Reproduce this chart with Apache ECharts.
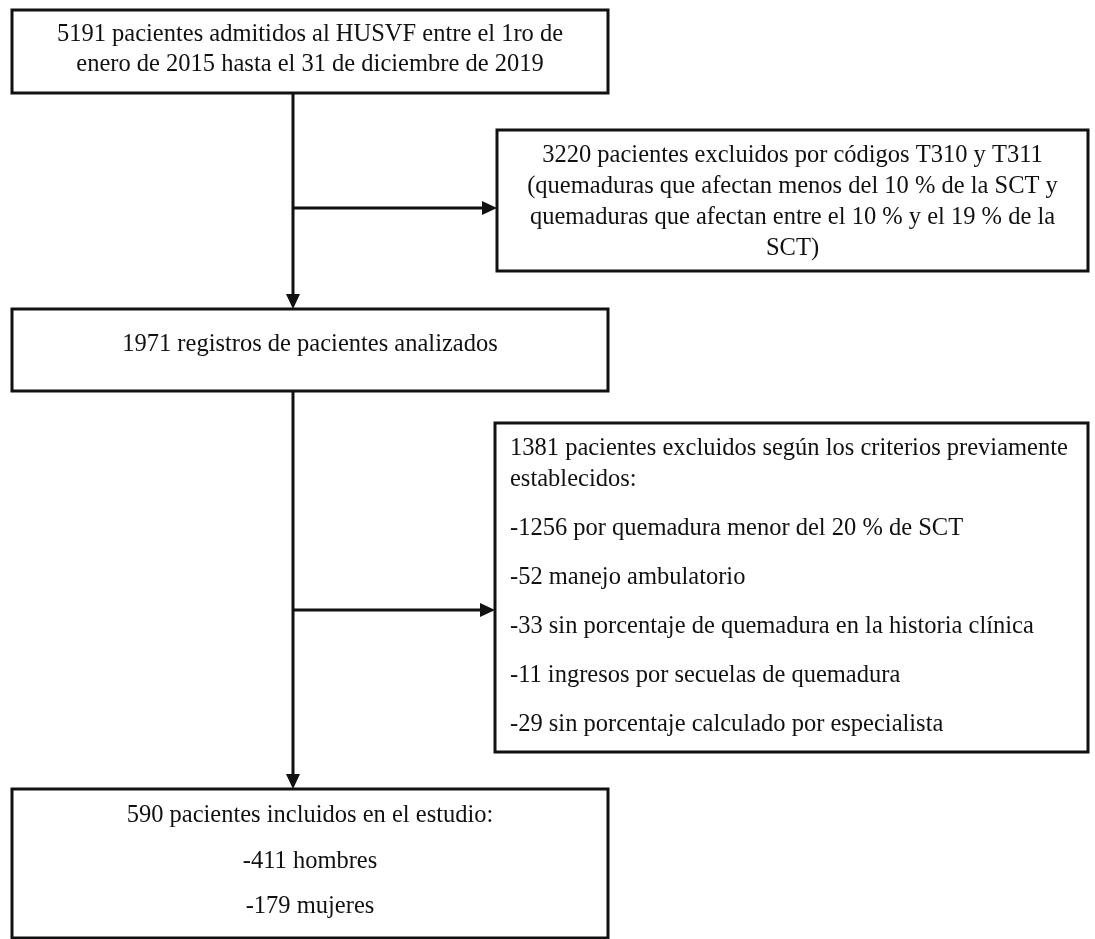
<!DOCTYPE html>
<html>
<head>
<meta charset="utf-8">
<script src="https://cdn.jsdelivr.net/npm/echarts@6/dist/echarts.min.js"></script>
<style>
  html, body { margin: 0; padding: 0; background: #ffffff; }
  #chart { width: 1095px; height: 939px; }
</style>
</head>
<body>
<div id="chart"></div>
<script>
// ---- content (text of the flow) ----
const flowSteps = [
  ['5191 pacientes admitidos al HUSVF entre el 1ro de', 'enero de 2015 hasta el 31 de diciembre de 2019'],
  ['1971 registros de pacientes analizados'],
  ['590 pacientes incluidos en el estudio:', '-411 hombres', '-179 mujeres']
];
const exclusions = [
  ['3220 pacientes excluidos por códigos T310 y T311',
   '(quemaduras que afectan menos del 10 % de la SCT y',
   'quemaduras que afectan entre el 10 % y el 19 % de la',
   'SCT)'],
  ['1381 pacientes excluidos según los criterios previamente',
   'establecidos:',
   '-1256 por quemadura menor del 20 % de SCT',
   '-52 manejo ambulatorio',
   '-33 sin porcentaje de quemadura en la historia clínica',
   '-11 ingresos por secuelas de quemadura',
   '-29 sin porcentaje calculado por especialista']
];

// ---- layout (diagram coordinates) ----
const stepBoxes = [[12, 10, 608, 93], [12, 309, 608, 391], [12, 789, 608, 938]];
const stepLineY = [[35, 65], [345], [816, 862, 907]];
const exclBoxes = [[497, 130, 1088, 271], [495, 423, 1088, 752]];
const exclLineY = [[156, 187, 218, 249], [449, 480, 529, 578, 627, 676, 725]];
const exclAlign = ['center', 'left'];
const spineX = 293;
const branchY = [208, 610];

const FONT = '24.5px "Liberation Serif", "Times New Roman", serif';
const INK = '#111111';

const items = [];
flowSteps.forEach((lines, i) => items.push({ kind: 'step', i }));
exclusions.forEach((lines, i) => items.push({ kind: 'excl', i }));

function renderBox(params, api) {
  const it = items[params.dataIndex];
  const box = it.kind === 'step' ? stepBoxes[it.i] : exclBoxes[it.i];
  const lines = it.kind === 'step' ? flowSteps[it.i] : exclusions[it.i];
  const ys = it.kind === 'step' ? stepLineY[it.i] : exclLineY[it.i];
  const align = it.kind === 'step' ? 'center' : exclAlign[it.i];
  const p0 = api.coord([box[0], box[1]]);
  const p1 = api.coord([box[2], box[3]]);
  const children = [{
    type: 'rect',
    shape: { x: p0[0], y: p0[1], width: p1[0] - p0[0], height: p1[1] - p0[1] },
    style: { fill: '#ffffff', stroke: INK, lineWidth: 3 }
  }];
  lines.forEach((t, k) => {
    let tx;
    if (align === 'center') tx = api.coord([(box[0] + box[2]) / 2, 0])[0];
    else tx = api.coord([box[0] + 15, 0])[0];
    const ty = api.coord([0, ys[k]])[1];
    children.push({
      type: 'text',
      style: { text: t, x: tx, y: ty, font: FONT, fill: INK, align: align, verticalAlign: 'middle' }
    });
  });
  return { type: 'group', children };
}

// connectors: [x1,y1,x2,y2]
const connectors = [
  [spineX, stepBoxes[0][3], spineX, stepBoxes[1][1]],
  [spineX, branchY[0], exclBoxes[0][0], branchY[0]],
  [spineX, stepBoxes[1][3], spineX, stepBoxes[2][1]],
  [spineX, branchY[1], exclBoxes[1][0], branchY[1]]
];

function renderArrow(params, api) {
  const c = connectors[params.dataIndex];
  const a = api.coord([c[0], c[1]]);
  const b = api.coord([c[2], c[3]]);
  const dx = b[0] - a[0], dy = b[1] - a[1];
  const len = Math.sqrt(dx * dx + dy * dy);
  const ux = dx / len, uy = dy / len;
  const hl = 15, hw = 7;
  const base = [b[0] - ux * hl, b[1] - uy * hl];
  return {
    type: 'group',
    children: [
      { type: 'line', shape: { x1: a[0], y1: a[1], x2: base[0], y2: base[1] },
        style: { stroke: INK, lineWidth: 3 } },
      { type: 'polygon',
        shape: { points: [[b[0], b[1]], [base[0] - uy * hw, base[1] + ux * hw], [base[0] + uy * hw, base[1] - ux * hw]] },
        style: { fill: INK } }
    ]
  };
}

const chart = echarts.init(document.getElementById('chart'), null, { renderer: 'canvas' });
chart.setOption({
  animation: false,
  backgroundColor: '#ffffff',
  grid: { left: 0, right: 0, top: 0, bottom: 0 },
  xAxis: { type: 'value', min: 0, max: 1095, show: false },
  yAxis: { type: 'value', min: 0, max: 939, inverse: true, show: false },
  series: [
    { type: 'custom', clip: false, renderItem: renderArrow, data: connectors.map((c, i) => [i]), z: 1 },
    { type: 'custom', clip: false, renderItem: renderBox, data: items.map((it, i) => [i]), z: 2 }
  ]
});
</script>
</body>
</html>
